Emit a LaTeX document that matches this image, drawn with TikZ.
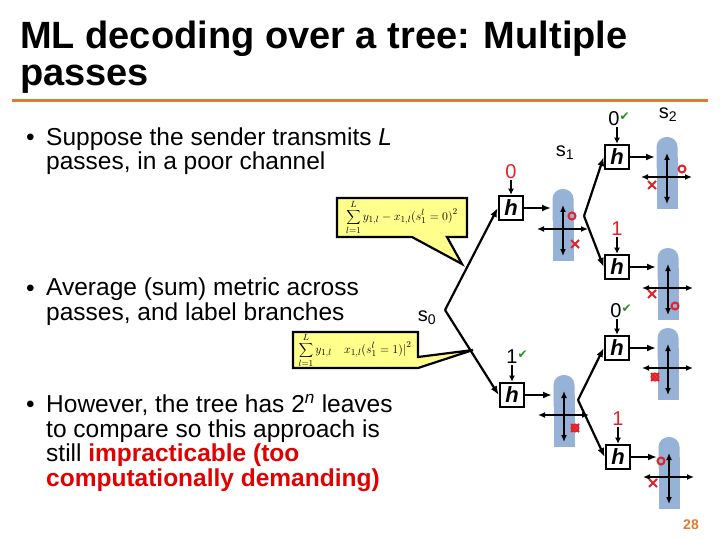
\documentclass[tikz,border=0pt]{standalone}
\usepackage{fontspec}
\setmainfont{Liberation Sans}
\newfontfamily\symfont{DejaVu Sans}
\usetikzlibrary{arrows.meta}

\definecolor{slideorange}{RGB}{226,122,51}
\definecolor{markred}{RGB}{228,32,40}
\definecolor{alertred}{RGB}{226,0,0}
\definecolor{tickgreen}{RGB}{40,140,40}
\definecolor{constblue}{RGB}{150,178,214}
\definecolor{calloutyellow}{RGB}{255,255,140}

\tikzset{
  hbox/.style={draw,line width=2.6pt,minimum size=24pt,inner sep=0pt,
    font=\fontsize{22}{22}\selectfont\bfseries\itshape},
  branch/.style={line width=2.2pt,-{Latex[length=9pt,width=7pt]}},
  feed/.style={line width=1.6pt,-{Latex[length=6pt,width=6pt]}},
  bitlabel/.style={font=\fontsize{20}{20}\selectfont,inner sep=1pt},
  statelabel/.style={font=\fontsize{20}{20}\selectfont,inner sep=0pt},
  callout/.style={fill=calloutyellow,draw,line width=2.2pt,line join=miter},
  axis/.style={line width=1.8pt,{Latex[length=7pt,width=6pt]}-{Latex[length=7pt,width=6pt]}},
  redmark/.style={markred,line width=2pt},
  bulletext/.style={anchor=base west,align=left,inner sep=0pt,
    font=\fontsize{24.5}{24.5}\selectfont},
}
\newcommand{\tick}{\raisebox{5pt}{\textcolor{tickgreen}{\symfont\fontsize{12}{12}\selectfont ✔}}}

\begin{document}
\begin{tikzpicture}[x=1pt,y=-1pt]
\useasboundingbox (0,0) rectangle (720,540);
\fill[white] (0,0) rectangle (720,540);

% title (base anchor sits on the last line)
\node[anchor=base west,align=left,inner sep=0pt,font=\fontsize{38}{37}\selectfont\bfseries] (title) at (20,86)
  {ML decoding over a tree: Multiple\\passes};
\draw[slideorange,line width=3pt] (12,101) -- (708,101);

% bullets
\node[bulletext] (b1) at (46,170) {Suppose the sender transmits \textit{L}\\passes, in a poor channel};
\node[bulletext] (b2) at (46,320) {Average (sum) metric across\\passes, and label branches};
\node[bulletext] (b3) at (46,486) {However, the tree has 2\textsuperscript{\textit{n}} leaves\\to compare so this approach is\\still \textcolor{alertred}{\bfseries impracticable (too}\\\textcolor{alertred}{\bfseries computationally demanding)}};
\node[bulletext] at (26,146) {\textbullet};
\node[bulletext] at (26,296) {\textbullet};
\node[bulletext] at (26,412) {\textbullet};

% callouts
\draw[callout] (337,198) -- (467,198) -- (467,237) -- (447,237) -- (462,264) -- (412,237) -- (337,237) -- cycle;
\node[font=\fontsize{12.5}{12.5}\selectfont] (m0) at (402,217)
  {$\displaystyle\sum_{l=1}^{L} y_{1,l}-x_{1,l}\bigl(s_1^{l}=0\bigr)^{2}$};
\draw[callout] (293,332) -- (418,332) -- (418,357) -- (473,350) -- (418,368) -- (293,368) -- cycle;
\node[font=\fontsize{12.5}{12.5}\selectfont] (m1) at (355,350)
  {$\displaystyle\sum_{l=1}^{L} y_{1,l}\quad x_{1,l}\bigl(s_1^{l}=1\bigr)\bigr|^{2}$};

% tree
\coordinate (f0) at (445,310);
\coordinate (f1) at (584,216);
\coordinate (f2) at (578,400);
\node[statelabel] (s0) at (427,318) {s\textsubscript{0}};
\node[statelabel] (s1) at (565,153) {s\textsubscript{1}};
\node[statelabel] (s2) at (668,115) {s\textsubscript{2}};

\node[hbox] (h0) at (511,208) {h};
\node[hbox] (h1) at (512,395) {h};
\node[hbox] (h00) at (617,157) {h};
\node[hbox] (h01) at (617,267) {h};
\node[hbox] (h10) at (617,348) {h};
\node[hbox] (h11) at (618,457) {h};

\node[bitlabel,markred] (l0) at (511,172) {0};
\node[bitlabel] (l1) at (512,357) {1\rlap{\tick}};
\node[bitlabel] (l00) at (614,119) {0\rlap{\tick}};
\node[bitlabel,markred] (l01) at (617,229) {1};
\node[bitlabel] (l10) at (616,311) {0\rlap{\tick}};
\node[bitlabel,markred] (l11) at (618,419) {1};

\foreach \h/\l in {h0/l0,h1/l1,h00/l00,h01/l01,h10/l10,h11/l11}
  \draw[feed] (\l.south -| \h) -- (\h.north);

% constellations: centre x, top, circle, cross
\foreach \cx/\ct/\ox/\oy/\kx/\ky [count=\i] in
  {563/189/572/216/575/244, 667/137/682/169/652/185, 668/248/675/306/652/294,
   564/375/575/428/575/428, 668/328/655/377/655/377, 669/437/661/461/653/483}{
  \fill[constblue,rounded corners=10pt] ({\cx-10.5},\ct) rectangle ({\cx+10.5},{\ct+40});
  \fill[constblue] ({\cx-10.5},{\ct+20}) rectangle ({\cx+10.5},{\ct+72});
  \draw[axis] (\cx,{\ct+16}) -- (\cx,{\ct+67});
  \draw[axis] ({\cx-26},{\ct+40}) -- ({\cx+25},{\ct+40});
  \draw[redmark] ({\kx-4},{\ky-4}) -- ({\kx+4},{\ky+4}) ({\kx-4},{\ky+4}) -- ({\kx+4},{\ky-4});
  \draw[redmark] (\ox,\oy) circle (3.5pt);
  \coordinate (c\i) at ({\cx-12},{\ct+20});
}

\draw[branch] (f0) -- (h0.west);
\draw[branch] (f0) -- (h1.west);
\draw[branch] (f1) -- (h00.west);
\draw[branch] (f1) -- (h01.west);
\draw[branch] (f2) -- (h10.west);
\draw[branch] (f2) -- (h11.west);
\draw[branch] (h0.east) -- (h0.east -| c1);
\draw[branch] (h00.east) -- (h00.east -| c2);
\draw[branch] (h01.east) -- (h01.east -| c3);
\draw[branch] (h1.east) -- (h1.east -| c4);
\draw[branch] (h10.east) -- (h10.east -| c5);
\draw[branch] (h11.east) -- (h11.east -| c6);

\node[slideorange,font=\fontsize{14}{14}\selectfont\bfseries] (page) at (691,525) {28};
\end{tikzpicture}
\end{document}
